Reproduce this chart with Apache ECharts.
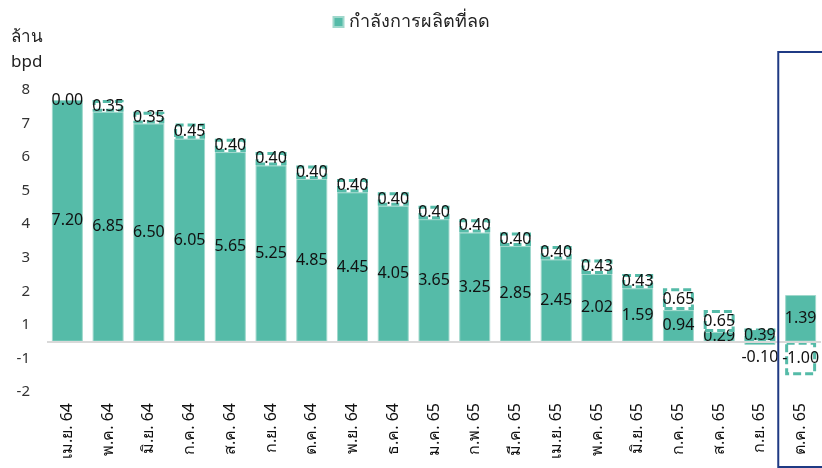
<!DOCTYPE html>
<html>
<head>
<meta charset="utf-8">
<style>
  html, body { margin: 0; padding: 0; background: #fff; }
  #chart { width: 822px; height: 468px; }
</style>
<script src="https://cdn.jsdelivr.net/npm/echarts@6/dist/echarts.min.js"></script>
</head>
<body>
<div id="chart"></div>
<script>
(function () {
  'use strict';

  var months = ['เม.ย. 64', 'พ.ค. 64', 'มิ.ย. 64', 'ก.ค. 64', 'ส.ค. 64', 'ก.ย. 64', 'ต.ค. 64', 'พ.ย. 64', 'ธ.ค. 64',
    'ม.ค. 65', 'ก.พ. 65', 'มี.ค. 65', 'เม.ย. 65', 'พ.ค. 65', 'มิ.ย. 65', 'ก.ค. 65', 'ส.ค. 65', 'ก.ย. 65', 'ต.ค. 65'];
  // remaining cut (solid bars)
  var remaining = [7.20, 6.85, 6.50, 6.05, 5.65, 5.25, 4.85, 4.45, 4.05, 3.65, 3.25, 2.85, 2.45, 2.02, 1.59, 0.94, 0.29, -0.10, 1.39];
  // change this month (dashed boxes)
  var change = [0.00, 0.35, 0.35, 0.45, 0.40, 0.40, 0.40, 0.40, 0.40, 0.40, 0.40, 0.40, 0.40, 0.43, 0.43, 0.65, 0.65, 0.39, -1.00];
  var legendName = 'กำลังการผลิตที่ลด';

  var TEAL = '#55bba8';
  var FONT = '"Noto Sans", "Open Sans", sans-serif';

  var chart = echarts.init(document.getElementById('chart'), null, { renderer: 'canvas' });

  var solidData = remaining.map(function (v) {
    var item = { value: v };
    if (v < 0) item.label = { position: 'bottom', distance: 4 };
    return item;
  });

  var dashData = change.map(function (v, i) {
    var item = { value: v };
    if (v === 0) item.itemStyle = { borderWidth: 0 };
    if (remaining[i] < 0) item.itemStyle = { color: TEAL };
    return item;
  });

  var labelStyle = {
    show: true,
    position: 'inside',
    color: '#111',
    fontSize: 16,
    fontFamily: FONT,
    formatter: function (p) { return p.value.toFixed(2); }
  };

  chart.setOption({
    animation: false,
    backgroundColor: '#fff',
    textStyle: { fontFamily: FONT },
    title: {
      text: 'ล้าน\nbpd',
      left: 6,
      top: 20,
      textStyle: { fontSize: 17, fontWeight: 'normal', color: '#222', lineHeight: 25, fontFamily: FONT }
    },
    legend: {
      data: [legendName],
      top: 8,
      left: 'center',
      icon: 'rect',
      itemWidth: 10,
      itemHeight: 10,
      itemGap: 6,
      textStyle: { fontSize: 18, color: '#222', fontFamily: FONT }
    },
    grid: { left: 47, right: 1, top: 90, bottom: 76, containLabel: false },
    xAxis: {
      type: 'category',
      data: months,
      axisLine: { show: false },
      axisTick: { show: false },
      axisLabel: { rotate: 90, color: '#111', fontSize: 16, margin: 11, interval: 0, fontFamily: FONT }
    },
    yAxis: [
      {
        type: 'value',
        min: -1.5,
        max: 7.5,
        show: false,
        splitLine: { show: false }
      },
      {
        type: 'value',
        position: 'left',
        min: -1,
        max: 8,
        interval: 1,
        axisLine: { show: false },
        axisTick: { show: false },
        splitLine: { show: false },
        axisLabel: {
          color: '#333',
          fontSize: 15,
          margin: 17,
          fontFamily: FONT,
          formatter: function (v) { return v > 0 ? String(v) : String(v - 1); }
        }
      }
    ],
    series: [
      {
        name: legendName,
        type: 'bar',
        stack: 'cut',
        yAxisIndex: 0,
        barCategoryGap: '24%',
        data: solidData,
        itemStyle: { color: TEAL, borderColor: '#9fd8cc', borderWidth: 1 },
        label: labelStyle,
        markLine: {
          silent: true,
          symbol: 'none',
          label: { show: false },
          lineStyle: { color: '#d9d9d9', width: 2, type: 'solid' },
          data: [{ yAxis: 0 }]
        },
        z: 2
      },
      {
        name: 'change',
        type: 'bar',
        stack: 'cut',
        yAxisIndex: 0,
        data: dashData,
        itemStyle: {
          color: 'rgba(255,255,255,0)',
          borderColor: TEAL,
          borderWidth: 3,
          borderType: [8, 4]
        },
        label: labelStyle,
        z: 3
      }
    ]
  });

  // frame around the latest month
  var last = months.length - 1;
  var pCur = chart.convertToPixel({ xAxisIndex: 0, yAxisIndex: 0 }, [last, 0]);
  var pPrev = chart.convertToPixel({ xAxisIndex: 0, yAxisIndex: 0 }, [last - 1, 0]);
  var bandLeft = (pCur[0] + pPrev[0]) / 2 - 2;

  chart.setOption({
    graphic: [{
      type: 'rect',
      shape: { x: bandLeft, y: 52, width: 900 - bandLeft, height: 415 },
      style: { fill: 'none', stroke: '#1f3a84', lineWidth: 2 },
      z: 10
    }]
  });
})();
</script>
</body>
</html>
